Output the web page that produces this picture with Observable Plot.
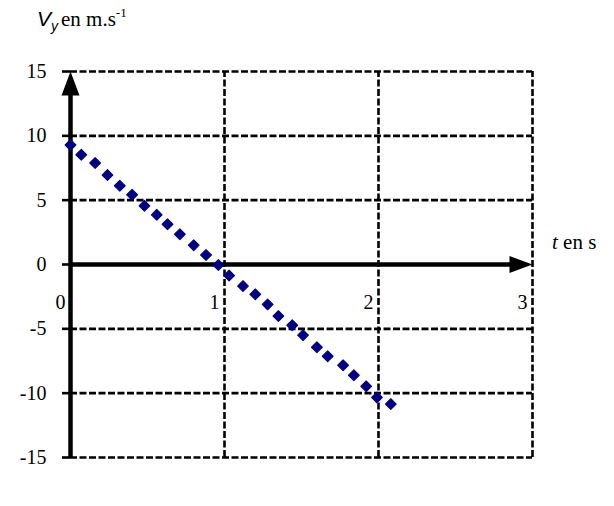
<!DOCTYPE html>
<html>
<head>
<meta charset="utf-8">
<script src="https://cdn.jsdelivr.net/npm/d3@7"></script>
<script src="https://cdn.jsdelivr.net/npm/@observablehq/plot@0.6"></script>
<style>
  html, body { margin: 0; padding: 0; background: #fff; }
  #chart svg { display: block; }
  #chart svg text, #chart svg tspan.serif { font-family: "Liberation Serif", "DejaVu Serif", "Noto Serif", Times, serif !important; }
  #chart svg tspan.sans { font-family: "Liberation Sans", "DejaVu Sans", Arial, sans-serif !important; }
</style>
</head>
<body>
<div id="chart"></div>
<script>
// Measured vertical velocity of the projectile (t in s, v_y in m/s)
const times  = [0.00, 0.07, 0.16, 0.24, 0.32, 0.40, 0.48, 0.56, 0.63, 0.71, 0.80, 0.88, 0.96, 1.03,
                1.12, 1.20, 1.28, 1.35, 1.44, 1.51, 1.60, 1.67, 1.77, 1.84, 1.92, 1.99, 2.08];
const speeds = [9.29, 8.53, 7.89, 6.95, 6.12, 5.42, 4.56, 3.86, 3.13, 2.35, 1.50, 0.74, -0.04, -0.86,
                -1.68, -2.32, -3.10, -4.01, -4.72, -5.49, -6.43, -7.13, -7.83, -8.61, -9.47, -10.33, -10.85];

const xTicks = [0, 1, 2, 3];
const yTicks = [-15, -10, -5, 0, 5, 10, 15];

const points = times.map((t, i) => ({t, v: speeds[i]}));

// Filled arrowheads for the two axes (tip at the anchor point)
const arrowUp = {draw(ctx) { ctx.moveTo(0, 0); ctx.lineTo(9, 24); ctx.lineTo(-9, 24); ctx.closePath(); }};
const arrowRight = {draw(ctx) { ctx.moveTo(0, 0); ctx.lineTo(-23, 8.5); ctx.lineTo(-23, -8.5); ctx.closePath(); }};

const dash = {stroke: "#000", strokeWidth: 2.6, strokeDasharray: "7,2.5"};

const chart = Plot.plot({
  width: 614,
  height: 506,
  marginLeft: 70,
  marginRight: 82,
  marginTop: 71,
  marginBottom: 49,
  x: {domain: [0, 3], axis: null, label: null},
  y: {domain: [-15, 15], axis: null, label: null},
  style: "font-size: 20px; color: #000; background: #fff;",
  marks: [
    // dashed grid, including the top, bottom and right frame lines
    Plot.ruleY(yTicks.filter(d => d !== 0), {x1: 0, x2: 3, ...dash}),
    Plot.ruleX(xTicks.filter(d => d !== 0), {y1: -15, y2: 15, ...dash}),
    // left tick marks and labels
    Plot.axisY(yTicks, {
      anchor: "left", label: null, tickSize: 8, tickPadding: 16, stroke: "#000", strokeWidth: 2.6,
      fontSize: 20, tickFormat: d => `${d}`
    }),
    // solid axes with arrowheads
    Plot.ruleX([0], {y1: -15, y2: 14.2, stroke: "#000", strokeWidth: 4.5}),
    Plot.ruleY([0], {x1: 0, x2: 2.9, stroke: "#000", strokeWidth: 4.5}),
    Plot.dot([{t: 0, v: 15}], {x: "t", y: "v", symbol: arrowUp, fill: "#000", stroke: "none"}),
    Plot.dot([{t: 3, v: 0}], {x: "t", y: "v", symbol: arrowRight, fill: "#000", stroke: "none"}),
    // time tick labels, set below the horizontal axis
    Plot.text(xTicks, {x: d => d, y: 0, text: d => `${d}`, textAnchor: "end", dx: -5, dy: 38, fontSize: 20}),
    // data points
    Plot.dot(points, {x: "t", y: "v", symbol: "diamond2", r: 4.8, fill: "#000080", stroke: "#000080", strokeWidth: 1.2, strokeLinejoin: "round"})
  ]
});

document.getElementById("chart").appendChild(chart);

// Axis titles with italic symbols, subscript and superscript
const sx = chart.scale("x"), sy = chart.scale("y");
const svg = d3.select(chart);

const vTitle = svg.append("text")
  .attr("x", sx.apply(0) - 33)
  .attr("y", sy.apply(15) - 45)
  .attr("text-anchor", "start")
  .attr("font-size", 21)
  .attr("fill", "#000");
vTitle.append("tspan").attr("class", "sans").attr("font-style", "italic").text("V");
vTitle.append("tspan").attr("class", "sans").attr("font-style", "italic")
  .attr("font-size", 14).attr("dy", 5).text("y");
vTitle.append("tspan").attr("class", "serif").attr("dy", -5).attr("dx", 3).text("en m.s");
vTitle.append("tspan").attr("class", "serif").attr("font-size", 13).attr("dy", -9).text("-1");

const tTitle = svg.append("text")
  .attr("x", sx.apply(3) + 20)
  .attr("y", sy.apply(0) - 15)
  .attr("text-anchor", "start")
  .attr("font-size", 21)
  .attr("fill", "#000");
tTitle.append("tspan").attr("class", "serif").attr("font-style", "italic").text("t");
tTitle.append("tspan").attr("class", "serif").text(" en s");
</script>
</body>
</html>
